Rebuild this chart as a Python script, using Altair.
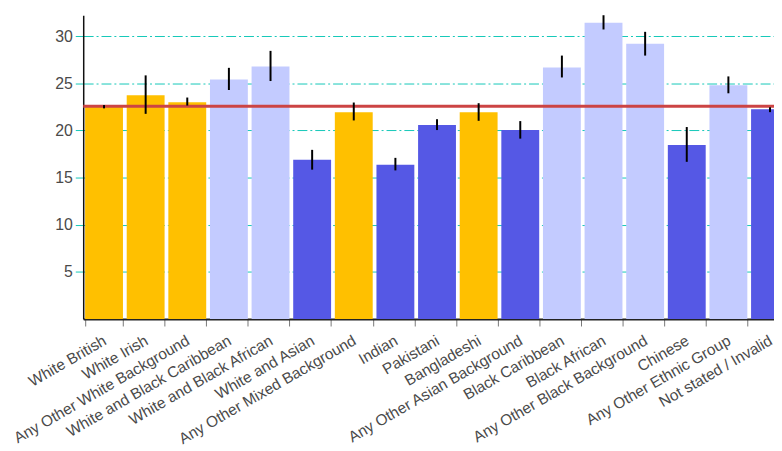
import altair as alt
import pandas as pd

categories = [
    "White British", "White Irish", "Any Other White Background",
    "White and Black Caribbean", "White and Black African", "White and Asian",
    "Any Other Mixed Background", "Indian", "Pakistani", "Bangladeshi",
    "Any Other Asian Background", "Black Caribbean", "Black African",
    "Any Other Black Background", "Chinese", "Any Other Ethnic Group",
    "Not stated / Invalid",
]
values = [22.55, 23.75, 23.0, 25.4, 26.8, 16.9, 21.95, 16.37, 20.58, 21.95,
          20.05, 26.68, 31.42, 29.2, 18.47, 24.79, 22.26]
lower = [22.35, 21.77, 22.65, 24.3, 25.25, 15.85, 21.07, 15.77, 20.05, 21.03,
         19.14, 25.63, 30.72, 27.95, 16.68, 23.95, 21.95]
upper = [22.7, 25.85, 23.5, 26.65, 28.45, 17.95, 22.97, 17.1, 21.2, 22.9,
         21.0, 27.95, 32.23, 30.47, 20.37, 25.74, 22.47]
groups = ["Similar", "Similar", "Similar", "Higher", "Higher", "Lower",
          "Similar", "Lower", "Lower", "Similar", "Lower", "Higher", "Higher",
          "Higher", "Lower", "Higher", "Lower"]
group_names = ["Similar", "Higher", "Lower"]
group_colors = ["#FFC000", "#C3CBFF", "#5558E5"]
overall_mean = [22.58]

df = pd.DataFrame({"cat": categories, "value": values, "lower": lower,
                   "upper": upper, "group": groups})
mean_df = pd.DataFrame({"mean": overall_mean})

teal = "#14C8B8"

x_enc = alt.X(
    "cat:N", sort=categories, title=None,
    scale=alt.Scale(paddingInner=0.09, paddingOuter=0.045, range=[0, 715]),
    axis=alt.Axis(labelAngle=-30, tickBand="extent", labelFontSize=15.6,
                  labelColor="#4a4a4a", labelFont="Liberation Sans",
                  labelLimit=0, tickColor="#777777", tickSize=7,
                  domainColor="#222222", domainWidth=2, grid=False,
                  labelPadding=7, labelOffset=-3),
)

bars = alt.Chart(df).mark_bar().encode(
    x=x_enc,
    y=alt.Y("value:Q", title=None,
            scale=alt.Scale(nice=False, zero=True),
            axis=alt.Axis(values=[5, 10, 15, 20, 25, 30], grid=True,
                          gridColor=teal, gridDash=[10, 3, 2, 3], gridWidth=1,
                          tickColor=teal, tickSize=8, labelFontSize=16,
                          labelColor="#4a4a4a", labelFont="Liberation Sans",
                          domainColor="#111111", domainWidth=1.5,
                          labelPadding=3)),
    color=alt.Color("group:N", scale=alt.Scale(domain=group_names, range=group_colors),
                    legend=None),
)

errs = alt.Chart(df).mark_rule(color="black", strokeWidth=2).encode(
    x=alt.X("cat:N", sort=categories),
    y="lower:Q",
    y2="upper:Q",
)

mean_line = alt.Chart(mean_df).mark_rule(color="#CC4444", strokeWidth=3).encode(
    y="mean:Q",
)

chart = alt.layer(bars, mean_line, errs).properties(
    width=698, height=307,
    autosize=alt.AutoSizeParams(type="none"),
    padding={"left": 76, "top": 5, "right": 0, "bottom": 131},
).configure_view(stroke=None)

chart.save("out.html", embed_options={"renderer": "svg", "actions": False})
